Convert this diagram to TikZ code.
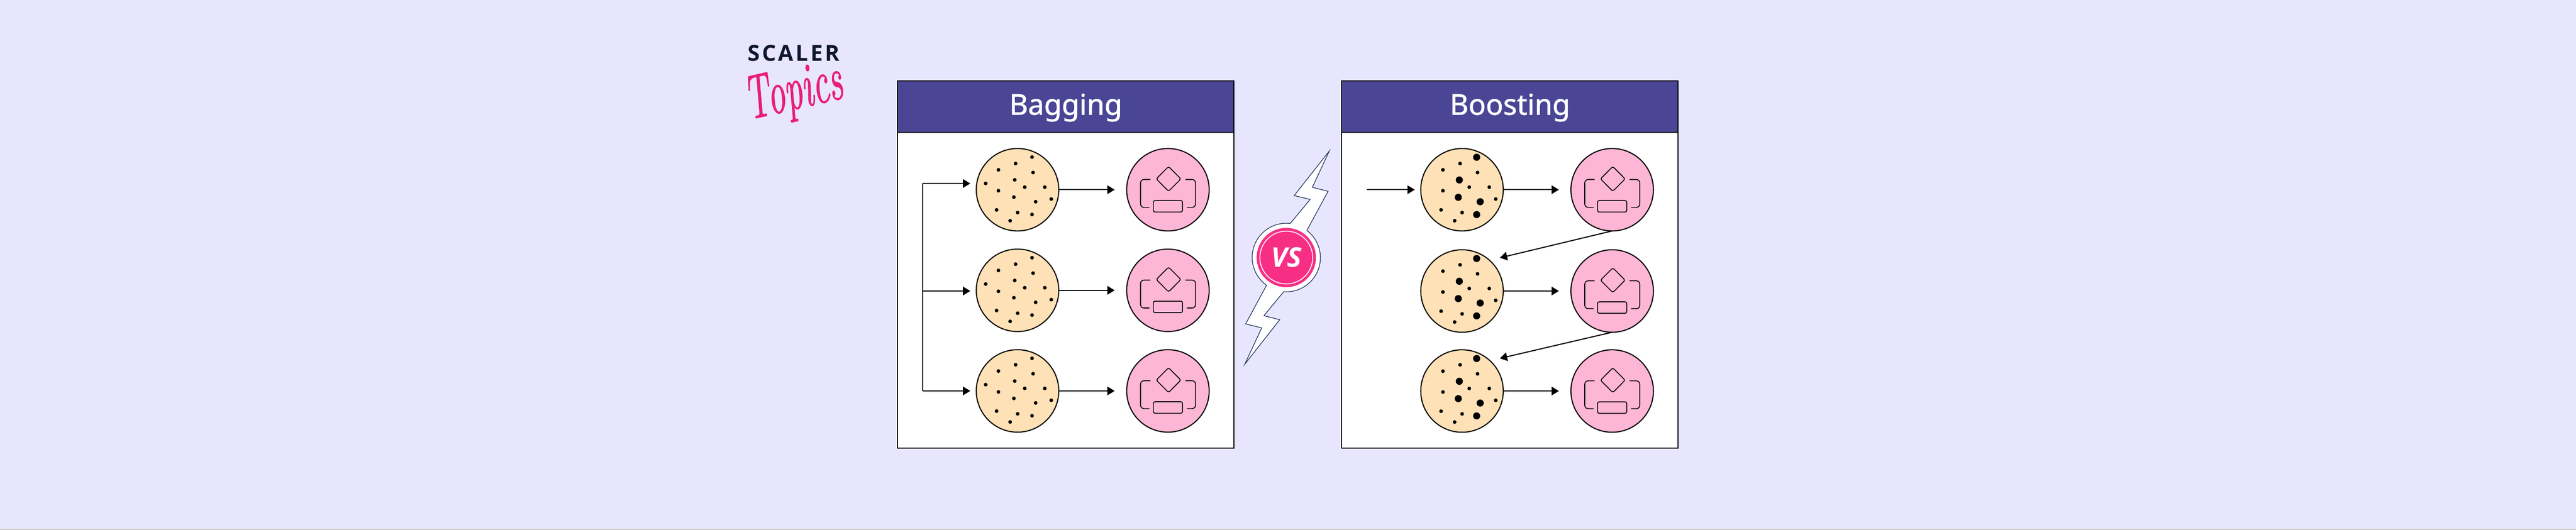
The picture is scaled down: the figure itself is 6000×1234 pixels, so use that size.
\documentclass[tikz,border=0pt]{standalone}
\usepackage{fontspec}
\setmainfont{Noto Sans}
\newfontfamily\headfont[FakeBold=1.2]{Noto Sans}
\newfontfamily\logofont[LetterSpace=10]{Open Sans}
\newfontfamily\vsfont{Open Sans}
\newfontfamily\topicsfont[FakeBold=1.5]{Latin Modern Roman}
\usetikzlibrary{arrows.meta}
\definecolor{bgcol}{HTML}{E8E6FF}
\definecolor{headcol}{HTML}{4A4695}
\definecolor{datacol}{HTML}{FEE1B6}
\definecolor{modelcol}{HTML}{FDB6D5}
\definecolor{vscol}{HTML}{F72F84}
\definecolor{boltcol}{HTML}{1C2F55}
\definecolor{scalercol}{HTML}{10162F}
\definecolor{topicscol}{HTML}{E91E78}
\tikzset{
  panel/.style={draw=black,fill=white,line width=.025cm,minimum width=7.833cm,minimum height=8.555cm,inner sep=0pt,outer sep=0pt},
  head/.style={draw=black,fill=headcol,line width=.025cm,minimum width=7.833cm,text height=.788cm,text depth=.414cm,inner sep=0pt,outer sep=0pt,text=white,font=\headfont\fontsize{19}{20}\selectfont},
  data/.style={circle,draw=black,fill=datacol,line width=.025cm,minimum size=1.92cm,inner sep=0pt,outer sep=0pt},
  model/.style={circle,draw=black,fill=modelcol,line width=.025cm,minimum size=1.92cm,inner sep=0pt,outer sep=0pt},
  wire/.style={draw=black,line width=.025cm},
  arw/.style={wire,-{Triangle[length=.17cm,width=.2cm]}},
  iconline/.style={draw=black,line width=.02cm,rounded corners=.04cm}
}
\newcommand{\smalldots}[1]{\begin{scope}[shift={(#1)}]
\foreach \x/\y in {-4.5/-61,-44.5/-46.3,36.2/-40,16.8/-6,63.5/-6,-44.5/2.3,78.5/21.7,-48.8/47,.2/53.3,-17.2/72.3}
  \fill[black] (\x,\y) circle[radius=4.3];
\end{scope}}
\newcommand{\plaindots}[1]{\smalldots{#1}\begin{scope}[shift={(#1)}]
\foreach \x/\y in {33.8/-76,-6.5/-23,-74.2/-14.7,-8.5/17.3,42.2/28,33.8/57.7}
  \fill[black] (\x,\y) circle[radius=4.3];
\end{scope}}
\newcommand{\weightdots}[1]{\smalldots{#1}\begin{scope}[shift={(#1)}]
\foreach \x/\y in {34/-75.7,-6.3/-22.7,-8.7/17.7,42.3/28,34/58}
  \fill[black] (\x,\y) circle[radius=8.3];
\end{scope}}
\newcommand{\modelicon}[1]{\begin{scope}[shift={(#1)}]
\draw[iconline] (1.5,-54) -- (30.2,-25.2) -- (1.5,3.6) -- (-27.2,-25.2) -- cycle;
\draw[iconline] (-34,25.2) rectangle (34,52);
\draw[iconline,rounded corners=.08cm] (-40.8,-23.8) -- (-63.8,-23.8) -- (-63.8,41.2) -- (-43.4,41.2);
\draw[iconline,rounded corners=.08cm] (40.8,-23.8) -- (64.3,-23.8) -- (64.3,41.2) -- (43.9,41.2);
\end{scope}}
\begin{document}
\begin{tikzpicture}[x=.01cm,y=-.01cm]
\useasboundingbox (0,0) rectangle (6000,1234);
\fill[bgcol] (0,0) rectangle (6000,1234);
\fill[black!50!bgcol] (0,1232) rectangle (6000,1234);
\node[anchor=base west,inner sep=0pt,text=scalercol,font=\logofont\bfseries\fontsize{14.6}{15}\selectfont] (scaler) at (1741,142) {SCALER};
\node[rotate=13,yscale=1.75,inner sep=0pt,text=topicscol,font=\topicsfont\itshape\fontsize{23.5}{24}\selectfont] (topics) at (1849,219) {Topics};
% left panel
\node[panel] (bagpanel) at (2482.4,616.2) {};
\node[head] (baghead) at (2482.4,248.6) {Bagging};
\node[data] (bagdataA) at (2370,442) {};
\node[data] (bagdataB) at (2370,676.4) {};
\node[data] (bagdataC) at (2370,910.8) {};
\node[model] (bagmodelA) at (2720.3,442) {};
\node[model] (bagmodelB) at (2720.3,676.4) {};
\node[model] (bagmodelC) at (2720.3,910.8) {};
\plaindots{2370,442}
\plaindots{2370,676.4}
\plaindots{2370,910.8}
\modelicon{2720.3,442}
\modelicon{2720.3,676.4}
\modelicon{2720.3,910.8}
\coordinate (trunkA) at (2149,427.5);
\coordinate (trunkB) at (2149,678);
\coordinate (trunkC) at (2149,910.8);
\draw[wire] (trunkA) -- (trunkC);
\draw[arw,shorten >=.14cm] (trunkA) -- (trunkA -| bagdataA.west);
\draw[arw,shorten >=.14cm] (trunkB) -- (trunkB -| bagdataB.west);
\draw[arw,shorten >=.14cm] (trunkC) -- (trunkC -| bagdataC.west);
\draw[arw,shorten >=.28cm] (bagdataA) -- (bagmodelA);
\draw[arw,shorten >=.28cm] (bagdataB) -- (bagmodelB);
\draw[arw,shorten >=.28cm] (bagdataC) -- (bagmodelC);
% bolt
\draw[draw=boltcol,fill=white,line width=.015cm] (3044.3,536.3) -- (3093.3,445.7) -- (3056.7,436.4) -- (3096,352.1) -- (3014.3,455.7) -- (3051.7,464.6) -- (3005,520.7) arc[start angle=276.5,end angle=125.3,radius=79.5] -- (2901.3,754.6) -- (2938.7,763.9) -- (2899.3,848.6) -- (2980.7,745) -- (2944,735.4) -- (2990,679.6) arc[start angle=94.3,end angle=-52.6,radius=79.5] -- cycle;
\node[circle,fill=vscol,minimum size=1.38cm,inner sep=0pt,outer sep=0pt] (vsdisc) at (2996,600) {};
\node[circle,draw=white,line width=.02cm,minimum size=1.23cm,inner sep=0pt,text=white,font=\vsfont\bfseries\itshape\fontsize{18}{18}\selectfont] (vs) at (2996,600) {VS};
% right panel
\node[panel] (boostpanel) at (3517,616.2) {};
\node[head] (boosthead) at (3517,248.6) {Boosting};
\node[data] (boostdataA) at (3405.3,442) {};
\node[data] (boostdataB) at (3405.3,678) {};
\node[data] (boostdataC) at (3405.3,911) {};
\node[model] (boostmodelA) at (3755,442) {};
\node[model] (boostmodelB) at (3755,678) {};
\node[model] (boostmodelC) at (3755,911) {};
\weightdots{3405.3,442}
\weightdots{3405.3,678}
\weightdots{3405.3,911}
\modelicon{3755,442}
\modelicon{3755,678}
\modelicon{3755,911}
\coordinate (entry) at (3183,442);
\coordinate (backA) at (3493.5,600.7);
\coordinate (backB) at (3493.5,835);
\draw[arw,shorten >=.14cm] (entry) -- (boostdataA);
\draw[arw,shorten >=.28cm] (boostdataA) -- (boostmodelA);
\draw[arw,shorten >=.28cm] (boostdataB) -- (boostmodelB);
\draw[arw,shorten >=.28cm] (boostdataC) -- (boostmodelC);
\draw[arw] (boostmodelA.south) -- (backA);
\draw[arw] (boostmodelB.south) -- (backB);
\end{tikzpicture}
\end{document}
